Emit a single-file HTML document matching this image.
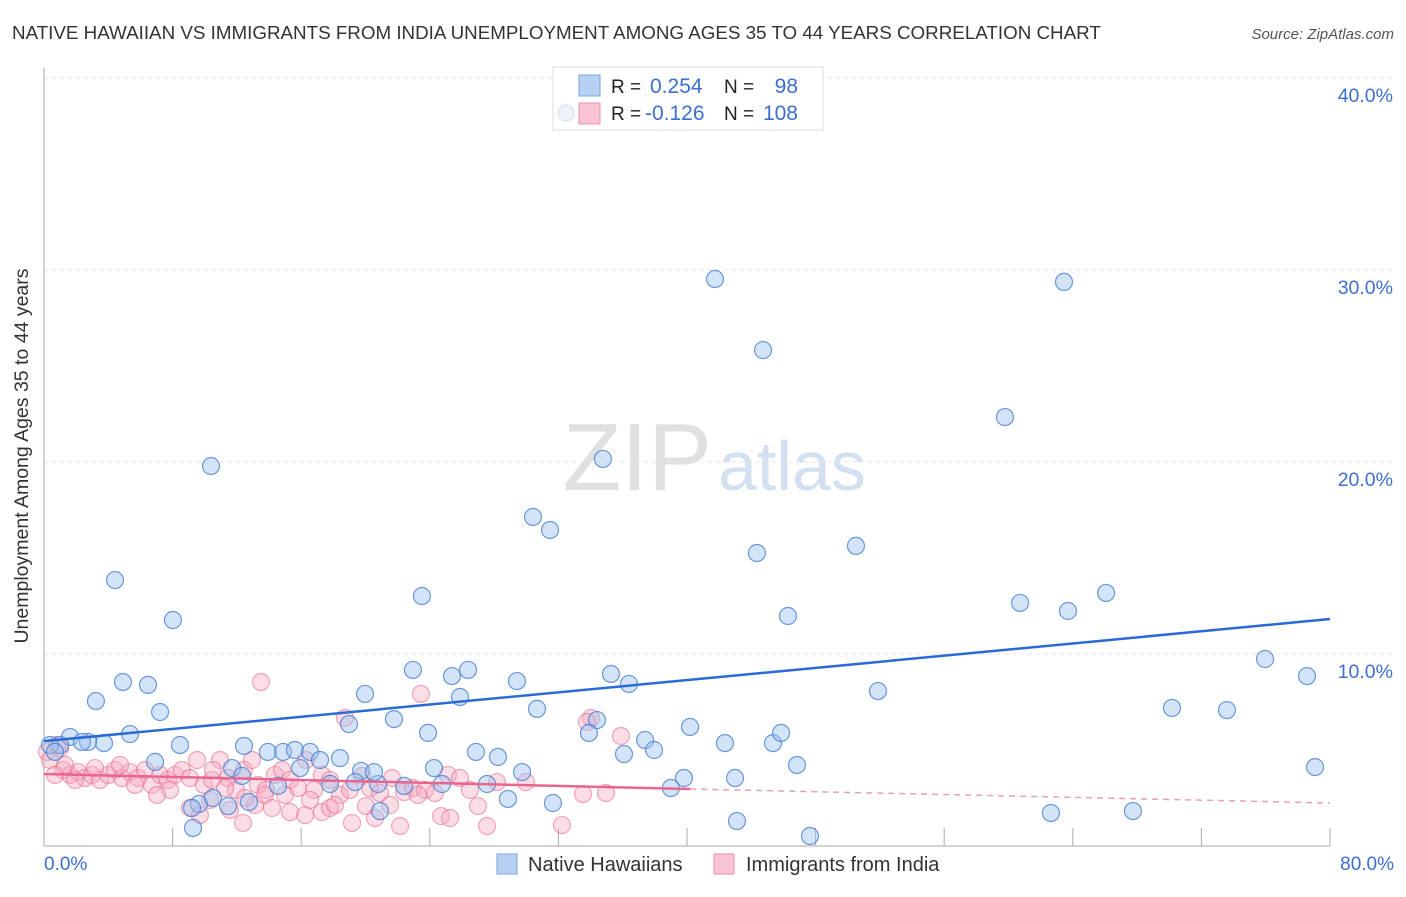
<!DOCTYPE html>
<html><head><meta charset="utf-8"><style>
body{margin:0;background:#fff;font-family:"Liberation Sans",sans-serif}
svg text{font-family:"Liberation Sans",sans-serif}
</style></head><body>
<svg width="1406" height="892">
<text x="12" y="39" font-size="18.8" fill="#333">NATIVE HAWAIIAN VS IMMIGRANTS FROM INDIA UNEMPLOYMENT AMONG AGES 35 TO 44 YEARS CORRELATION CHART</text>
<text x="1394" y="39" font-size="15" fill="#555" font-style="italic" text-anchor="end">Source: ZipAtlas.com</text>
<text x="712" y="490" font-size="96" fill="#e0e0e0" font-family="Liberation Serif" text-anchor="end">ZIP</text>
<text x="718" y="490" font-size="70" fill="#d3e0f2">atlas</text>
<g id="grid"></g>
<line x1="44" y1="68" x2="44" y2="846" stroke="#aaa"/>
<line x1="44" y1="846" x2="1330" y2="846" stroke="#aaa"/>
<g id="xticks"></g>
<g id="pts"></g>
<g id="trends"></g>
<text x="28" y="456" font-size="19.5" fill="#333" text-anchor="middle" transform="rotate(-90 28 456)">Unemployment Among Ages 35 to 44 years</text>
<text x="44" y="870" font-size="19" fill="#3b6fd0">0.0%</text>
<text x="1394" y="870" font-size="19" fill="#3b6fd0" text-anchor="end">80.0%</text>
<g>
<rect x="553" y="67" width="270" height="63" fill="#fff" stroke="#ddd"/>
<circle cx="566" cy="113" r="8" fill="#eef3fb" stroke="#d5e0f0"/>
<rect x="579" y="75" width="21" height="21" fill="#b8d1f3" stroke="#7aa5e0"/>
<rect x="579" y="103" width="21" height="21" fill="#f8c3d2" stroke="#ec8fab"/>
<text x="611" y="93" font-size="19" fill="#222">R =</text><text x="650" y="93" font-size="21" fill="#3b6fd0">0.254</text>
<text x="724" y="93" font-size="19" fill="#222">N =</text><text x="798" y="93" font-size="21" fill="#3b6fd0" text-anchor="end">98</text>
<text x="611" y="120" font-size="19" fill="#222">R =</text><text x="645" y="120" font-size="21" fill="#3b6fd0">-0.126</text>
<text x="724" y="120" font-size="19" fill="#222">N =</text><text x="798" y="120" font-size="21" fill="#3b6fd0" text-anchor="end">108</text>
</g>
<g>
<rect x="497" y="854" width="20" height="20" fill="#b8d1f3" stroke="#7aa5e0"/>
<text x="528" y="871" font-size="20" fill="#333">Native Hawaiians</text>
<rect x="714" y="854" width="20" height="20" fill="#f8c3d2" stroke="#ec8fab"/>
<text x="746" y="871" font-size="20" fill="#333">Immigrants from India</text>
</g>
</svg>
<script>
const yTicks=[10,20,30,40];
const yTickLabels=["10.0%","20.0%","30.0%","40.0%"];
const xTicks=[8,16,24,32,40,48,56,64,72,80];
const bluePx=[[115,580],[173,620],[211,466],[123,682],[148,685],[96,701],[160,712],[130,734],[180,745],[104,743],[88,742],[70,737],[60,745],[50,745],[82,742],[55,752],[155,762],[244,746],[232,768],[268,752],[283,752],[295,750],[310,752],[300,768],[320,760],[340,758],[365,694],[349,724],[394,719],[413,670],[422,596],[428,733],[452,676],[460,697],[468,670],[434,768],[442,784],[476,752],[498,757],[517,681],[537,709],[533,517],[550,530],[603,459],[611,674],[629,684],[597,720],[589,733],[624,754],[645,740],[654,750],[690,727],[684,778],[671,788],[715,279],[763,350],[757,553],[788,616],[725,743],[735,778],[773,743],[781,733],[797,765],[856,546],[878,691],[1005,417],[1064,282],[1020,603],[1068,611],[1106,593],[1172,708],[1227,710],[1265,659],[1307,676],[1315,767],[1133,811],[1051,813],[810,836],[737,821],[553,803],[508,799],[487,784],[522,772],[404,786],[378,784],[361,771],[374,772],[355,782],[330,784],[380,811],[278,786],[249,802],[228,806],[199,804],[192,808],[193,828],[213,798],[242,776]];
const pinkPx=[[261,682],[421,694],[345,718],[591,718],[587,722],[621,736],[47,752],[60,748],[50,760],[57,745],[63,770],[70,775],[78,772],[85,778],[92,775],[100,780],[108,775],[115,770],[122,778],[130,772],[138,778],[145,770],[152,785],[160,775],[168,780],[175,775],[182,770],[190,778],[197,760],[204,785],[212,780],[220,760],[228,778],[236,790],[244,770],[252,760],[258,785],[266,790],[275,775],[282,770],[290,780],[298,788],[306,760],[314,790],[322,775],[330,780],[340,795],[350,790],[362,776],[370,788],[380,793],[392,778],[404,792],[413,788],[425,790],[435,793],[448,775],[460,778],[470,790],[497,782],[526,782],[190,808],[200,815],[210,800],[243,823],[255,805],[265,795],[272,808],[290,812],[305,815],[322,812],[330,808],[335,805],[352,823],[366,806],[375,818],[400,826],[441,816],[450,818],[487,826],[562,825],[478,806],[583,794],[606,793],[55,775],[65,765],[75,780],[95,768],[120,765],[135,785],[170,790],[157,795],[230,810],[285,795],[213,770],[225,788],[245,798],[310,800],[390,805],[418,795]];
const blueX=bluePx.map(p=>+((p[0]-44)/16.075).toFixed(2));
const blueY=bluePx.map(p=>+((846-p[1])/19.2).toFixed(2));
const pinkX=pinkPx.map(p=>+((p[0]-44)/16.075).toFixed(2));
const pinkY=pinkPx.map(p=>+((846-p[1])/19.2).toFixed(2));
const blueTrend=[[0,5.46],[80,11.82]];
const pinkTrend=[[0,3.75],[40.2,2.97],[80,2.24]];
const NS="http://www.w3.org/2000/svg";
const sx=v=>44+v*16.075, sy=v=>846-v*19.2;
function mk(t,a,p){const e=document.createElementNS(NS,t);for(const k in a)e.setAttribute(k,a[k]);p.appendChild(e);return e;}
const grid=document.getElementById('grid');
yTicks.forEach((t,i)=>{
 const l=mk('line',{x1:44,x2:1392,y1:sy(t),y2:sy(t),stroke:'#e6e6e6','stroke-dasharray':'4,4'},grid);
 
 
 const tx=mk('text',{x:1393,y:sy(t)+24,'font-size':19.5,fill:'#3b6fd0','text-anchor':'end'},grid);
 tx.textContent=yTickLabels[i];
 
 
});
const xt=document.getElementById('xticks');
xTicks.forEach(t=>{
 const l=mk('line',{x1:sx(t),x2:sx(t),y1:828,y2:846,stroke:'#aaa'},xt);
 
 
});
const pts=document.getElementById('pts');
pinkX.forEach((x,i)=>{
 const c=mk('circle',{cx:sx(x),cy:sy(pinkY[i]),r:8.5,fill:'rgba(246,170,192,0.4)',stroke:'rgba(234,110,145,0.6)','stroke-width':1.2},pts);
 
 
});
blueX.forEach((x,i)=>{
 const c=mk('circle',{cx:sx(x),cy:sy(blueY[i]),r:8.5,fill:'rgba(160,195,240,0.45)',stroke:'rgba(60,120,210,0.75)','stroke-width':1.2},pts);
 
 
});
const tr=document.getElementById('trends');
const bl=mk('line',{x1:sx(blueTrend[0][0]),y1:sy(blueTrend[0][1]),x2:sx(blueTrend[1][0]),y2:sy(blueTrend[1][1]),stroke:'#2a6ad4','stroke-width':2.5},tr);


const pl=mk('line',{x1:sx(pinkTrend[0][0]),y1:sy(pinkTrend[0][1]),x2:sx(pinkTrend[1][0]),y2:sy(pinkTrend[1][1]),stroke:'#e8668e','stroke-width':2.5},tr);


const pd=mk('line',{x1:sx(pinkTrend[1][0]),y1:sy(pinkTrend[1][1]),x2:sx(pinkTrend[2][0]),y2:sy(pinkTrend[2][1]),stroke:'#e8a0b5','stroke-width':1.5,'stroke-dasharray':'6,5'},tr);


</script>
</body></html>
